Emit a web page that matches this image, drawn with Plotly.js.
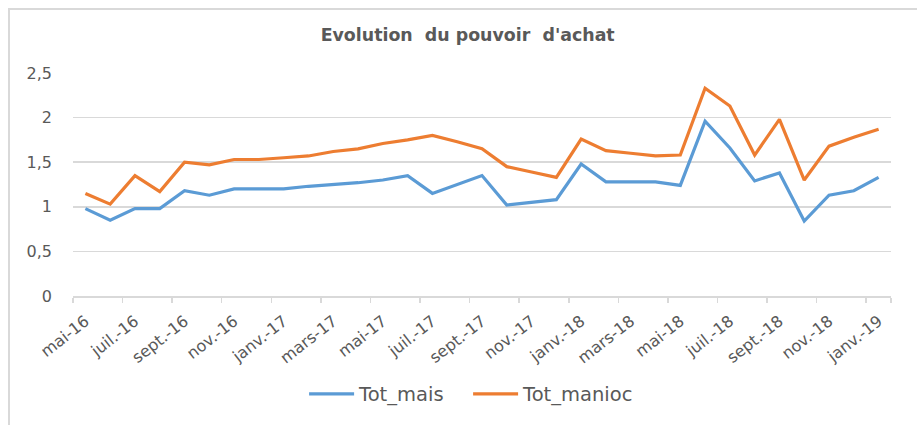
<!DOCTYPE html>
<html>
<head>
<meta charset="utf-8">
<script src="https://cdn.plot.ly/plotly-3.0.1.min.js"></script>
<style>
  html, body { margin: 0; padding: 0; background: #fff; }
  #wrap { position: relative; width: 917px; height: 425px; }
  #chart { width: 917px; height: 425px; }
  #frame { position: absolute; left: 8px; top: 8px; right: -10px; bottom: -10px;
           border-top: 2px solid #d9d9d9; border-left: 2px solid #d9d9d9; pointer-events: none; }
</style>
</head>
<body>
<div id="wrap"><div id="chart"></div><div id="frame"></div></div>
<script>
const months = ['mai-16','juin-16','juil.-16','août-16','sept.-16','oct.-16','nov.-16','déc.-16',
  'janv.-17','févr.-17','mars-17','avr.-17','mai-17','juin-17','juil.-17','août-17','sept.-17','oct.-17','nov.-17','déc.-17',
  'janv.-18','févr.-18','mars-18','avr.-18','mai-18','juin-18','juil.-18','août-18','sept.-18','oct.-18','nov.-18','déc.-18',
  'janv.-19'];
const totMais = [0.98,0.85,0.98,0.98,1.18,1.13,1.20,1.20,1.20,1.23,1.25,1.27,1.30,1.35,1.15,1.25,1.35,
  1.02,1.05,1.08,1.48,1.28,1.28,1.28,1.24,1.96,1.66,1.29,1.38,0.84,1.13,1.18,1.33];
const totManioc = [1.15,1.03,1.35,1.17,1.50,1.47,1.53,1.53,1.55,1.57,1.62,1.65,1.71,1.75,1.80,1.73,1.65,
  1.45,1.39,1.33,1.76,1.63,1.60,1.57,1.58,2.33,2.13,1.58,1.98,1.30,1.68,1.78,1.87];
const yTicks = [0, 0.5, 1, 1.5, 2, 2.5];

const xIdx = months.map((_, i) => i);
const labelIdx = xIdx.filter(i => i % 2 === 0);
const labelText = labelIdx.map(i => months[i]);
const boundaryIdx = labelIdx.map(i => i - 0.5);

const FONT = 'DejaVu Sans, Arial, sans-serif';
const GREY = '#595959';

const traces = [
  { x: xIdx, y: totMais, name: 'Tot_mais', type: 'scatter', mode: 'lines',
    line: { color: '#5B9BD5', width: 3.2 }, xaxis: 'x', yaxis: 'y' },
  { x: xIdx, y: totManioc, name: 'Tot_manioc', type: 'scatter', mode: 'lines',
    line: { color: '#ED7D31', width: 3.2 }, xaxis: 'x', yaxis: 'y' }
];

const layout = {
  width: 917, height: 425,
  margin: { l: 73, r: 26, t: 73, b: 125 },
  paper_bgcolor: '#fff', plot_bgcolor: '#fff',
  separators: ', ',
  font: { family: FONT, color: GREY },
  title: { text: "Evolution  du pouvoir  d'achat", font: { family: FONT, size: 17.4, color: GREY, weight: 'bold' },
           x: 0.51, xref: 'container', xanchor: 'center', y: 0.918, yref: 'container', yanchor: 'middle' },
  showlegend: true,
  legend: { orientation: 'h', x: 0.483, xanchor: 'center', y: -0.44, yanchor: 'middle',
            font: { family: FONT, size: 19.5, color: GREY }, itemwidth: 45, tracegroupgap: 0,
            entrywidth: 104, entrywidthmode: 'pixels' },
  xaxis: {
    range: [-0.5, 32.5], tickmode: 'array', tickvals: boundaryIdx.concat([32.5]),
    ticktext: boundaryIdx.concat([32.5]).map(() => ''),
    ticks: 'outside', ticklen: 5, tickcolor: '#d9d9d9', tickwidth: 1.5,
    showline: true, linecolor: '#d9d9d9', linewidth: 1.5,
    showgrid: false, zeroline: false, fixedrange: true
  },
  xaxis2: {
    overlaying: 'x', anchor: 'y', side: 'bottom',
    range: [-0.5, 32.5], tickmode: 'array', tickvals: labelIdx, ticktext: labelText,
    tickangle: -38, ticks: '', ticklabelstandoff: 12,
    tickfont: { family: FONT, size: 16, color: GREY },
    showline: false, showgrid: false, zeroline: false, fixedrange: true
  },
  yaxis: {
    range: [0, 2.5], tickmode: 'array', tickvals: yTicks,
    ticks: '', ticklabelstandoff: 20,
    tickfont: { family: FONT, size: 16, color: GREY },
    showgrid: true, gridcolor: '#d9d9d9', gridwidth: 1.5,
    zeroline: false, showline: false, fixedrange: true
  }
};

// invisible trace so that the label axis (xaxis2) is drawn
traces.push({ x: [0], y: [0], xaxis: 'x2', yaxis: 'y', mode: 'markers', marker: { opacity: 0 },
              showlegend: false, hoverinfo: 'skip' });

Plotly.newPlot('chart', traces, layout, { displayModeBar: false, staticPlot: true });
</script>
</body>
</html>
